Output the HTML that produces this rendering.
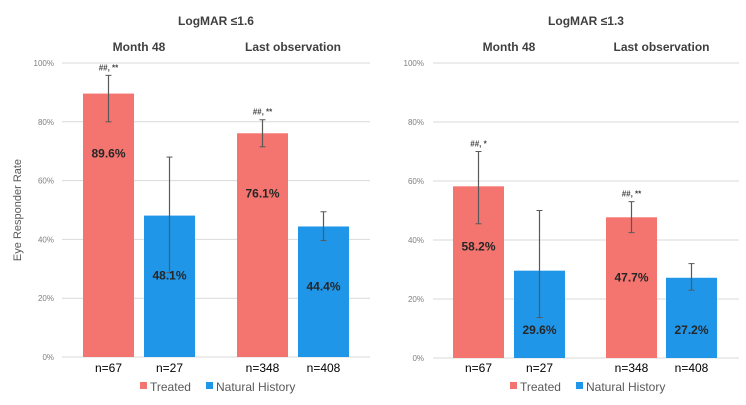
<!DOCTYPE html>
<html><head><meta charset="utf-8"><style>
body{margin:0;background:#fff;font-family:"Liberation Sans","DejaVu Sans",sans-serif;}
svg text{font-family:"Liberation Sans","DejaVu Sans",sans-serif;}
</style></head><body>
<svg id="c" width="746" height="400" xmlns="http://www.w3.org/2000/svg"></svg>
<script>
const panelTitles=["LogMAR ≤1.6","LogMAR ≤1.3"];
const groups=["Month 48","Last observation"];
const treated=[[89.6,76.1],[58.2,47.7]];
const natural=[[48.1,44.4],[29.6,27.2]];
const treatedLo=[[80,71.5],[45.5,42.5]];
const treatedHi=[[95.8,80.7],[70,53]];
const naturalLo=[[28.7,39.6],[13.7,23]];
const naturalHi=[[68,49.4],[50,32]];
const sig=[["##, **","##, **"],["##, *","##, **"]];
const nTreated=["n=67","n=348"];
const nNatural=["n=27","n=408"];
const ticks=[0,20,40,60,80,100];
const svg=document.getElementById('c');
const NS="http://www.w3.org/2000/svg";
function mk(t,a,txt){const e=document.createElementNS(NS,t);for(const k in a)e.setAttribute(k,a[k]);if(txt!==undefined)e.textContent=txt;svg.appendChild(e);return e;}
const panels=[{x0:62,x1:370,tx:54,bars:[83,144,237,298],yb:357,yt:63,cx:216},{x0:433,x1:739,tx:424,bars:[453,514,606,666],yb:358,yt:63,cx:586}];
const BW=51;
panels.forEach((p,pi)=>{
 const y=v=>p.yb-(p.yb-p.yt)*v/100;
 ticks.forEach(t=>{
  const g=mk('line',{x1:p.x0,x2:p.x1,y1:y(t),y2:y(t),stroke:'#d9d9d9','stroke-width':1});
  
  const l=mk('text',{x:p.tx,y:y(t)+3,'text-anchor':'end','font-size':8,fill:'#7f7f7f'},t+'%');
  
 });
 const tt=mk('text',{x:p.cx,y:25,'text-anchor':'middle','font-size':12,'font-weight':'bold',fill:'#404040'},panelTitles[pi]);
 
 groups.forEach((g,gi)=>{
  const bxT=p.bars[gi*2],bxN=p.bars[gi*2+1];
  const gl=mk('text',{x:(bxT+bxN+BW)/2,y:51,'text-anchor':'middle','font-size':12,'font-weight':'bold',fill:'#404040'},g);
  
  [[bxT,treated,treatedLo,treatedHi,'#f4756f','treated-bar',nTreated],[bxN,natural,naturalLo,naturalHi,'#1f96e8','natural-history-bar',nNatural]].forEach(([bx,vals,lo,hi,col,nm,nn],si)=>{
   const v=vals[pi][gi],top=y(v),h=p.yb-top;
   const r=mk('rect',{x:bx,y:top,width:BW,height:h,fill:col});
   
   const cx=bx+BW/2;
   const e=mk('line',{x1:cx,x2:cx,y1:y(hi[pi][gi]),y2:y(lo[pi][gi]),stroke:'#595959','stroke-width':1.2});
   
   [hi[pi][gi],lo[pi][gi]].forEach(w=>{const c=mk('line',{x1:cx-3,x2:cx+3,y1:y(w),y2:y(w),stroke:'#595959','stroke-width':1});});
   const vl=mk('text',{x:cx,y:top+Math.min(60,h-28)+4,'text-anchor':'middle','font-size':12,'font-weight':'bold',fill:'#262626'},v.toFixed(1)+'%');
   
   const nl=mk('text',{x:cx,y:372,'text-anchor':'middle','font-size':12,fill:'#000'},nn[gi]);
   
   if(si===0){const s=mk('text',{x:cx,y:y(hi[pi][gi])-5,'text-anchor':'middle','font-size':8,'font-weight':'bold',fill:'#404040'},sig[pi][gi]);}
  });
 });
 const lx=p.cx-76;
 const l1=mk('rect',{x:lx,y:382,width:7,height:7,fill:'#f4756f'});
 const t1=mk('text',{x:lx+10,y:391,'font-size':12,fill:'#595959'},'Treated');
 const l2=mk('rect',{x:lx+66,y:382,width:7,height:7,fill:'#1f96e8'});
 const t2=mk('text',{x:lx+76,y:391,'font-size':12,fill:'#595959'},'Natural History');
});
const yt=mk('text',{x:0,y:0,transform:'translate(21,210) rotate(-90)','text-anchor':'middle','font-size':11,fill:'#595959'},'Eye Responder Rate');

</script>
</body></html>
